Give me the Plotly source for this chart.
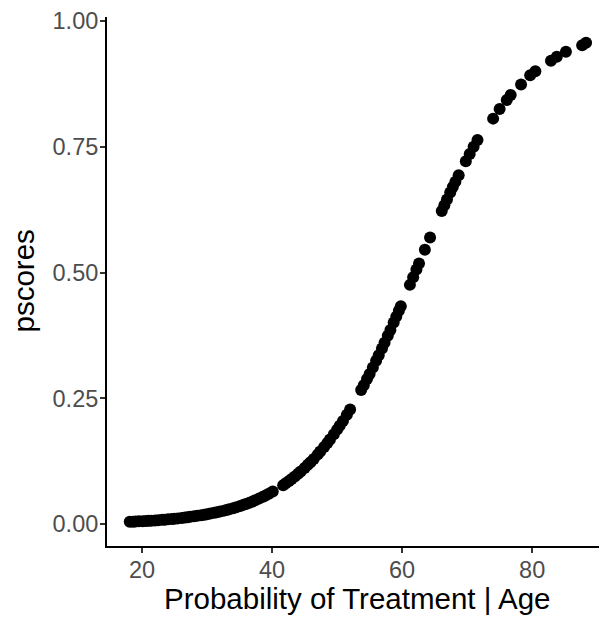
import plotly.graph_objects as go

# Ages (x) and propensity scores (y)
age = [
    18.1, 18.6, 19.0, 19.5, 20.1, 20.6, 21.0, 21.4, 22.0, 22.5, 23.1, 23.5,
    24.0, 24.6, 25.0, 25.5, 26.1, 26.6, 27.0, 27.4, 28.0, 28.5, 29.1, 29.6,
    30.0, 30.5, 31.1, 31.5, 32.0, 32.6, 33.0, 33.4, 34.0, 34.5, 35.1, 35.6,
    36.0, 36.5, 37.0, 37.4, 38.0, 38.6, 39.0, 39.5, 40.1,
    41.7, 42.1, 42.6, 43.0, 43.5, 44.0, 44.4, 45.0, 45.5, 45.9, 46.4, 47.0,
    47.4, 48.0, 48.5, 48.9, 49.5, 50.0, 50.4, 50.9, 51.5, 52.0,
    53.7, 54.1, 54.6, 55.0, 55.5, 56.0, 56.4, 56.9, 57.3, 57.8, 58.2, 58.7,
    59.1, 59.5, 59.8,
    61.2, 61.7, 62.2, 62.6, 63.5, 64.3,
    66.1, 66.5, 66.9, 67.4, 67.8, 68.2, 68.7,
    69.8, 70.4, 71.0, 71.6,
    74.0, 75.0, 76.1, 76.7, 78.3, 79.7, 80.5, 82.9, 83.8, 85.2, 87.7, 88.3,
]

pscores = [
    0.0047, 0.0050, 0.0052, 0.0056, 0.0060, 0.0064, 0.0067, 0.0070, 0.0075, 0.0080, 0.0086, 0.0090,
    0.0096, 0.0103, 0.0108, 0.0115, 0.0124, 0.0131, 0.0138, 0.0145, 0.0156, 0.0165, 0.0177, 0.0188,
    0.0198, 0.0210, 0.0225, 0.0236, 0.0251, 0.0269, 0.0283, 0.0296, 0.0318, 0.0337, 0.0362, 0.0384,
    0.0402, 0.0427, 0.0452, 0.0474, 0.0508, 0.0544, 0.0570, 0.0604, 0.0647,
    0.0775, 0.0811, 0.0857, 0.0896, 0.0948, 0.1001, 0.1046, 0.1117, 0.1179, 0.1230, 0.1297, 0.1382,
    0.1442, 0.1534, 0.1615, 0.1682, 0.1787, 0.1879, 0.1954, 0.2052, 0.2174, 0.2279,
    0.2665, 0.2761, 0.2885, 0.2986, 0.3115, 0.3248, 0.3356, 0.3493, 0.3605, 0.3746, 0.3861, 0.4007,
    0.4125, 0.4243, 0.4333,
    0.4756, 0.4909, 0.5061, 0.5183, 0.5456, 0.5697,
    0.6225, 0.6339, 0.6452, 0.6590, 0.6699, 0.6806, 0.6937,
    0.7215, 0.7359, 0.7499, 0.7634,
    0.806, 0.825, 0.843, 0.853, 0.874, 0.892, 0.900, 0.921, 0.929, 0.939, 0.952, 0.957,
]

x_ticks = [20, 40, 60, 80]
y_ticks = [0.0, 0.25, 0.50, 0.75, 1.00]
y_tick_text = ["0.00", "0.25", "0.50", "0.75", "1.00"]

x_title = "Probability of Treatment | Age"
y_title = "pscores"

FONT = "Liberation Sans, Arial, Helvetica, sans-serif"

fig = go.Figure()
fig.add_trace(go.Scatter(
    x=age, y=pscores, mode="markers",
    marker=dict(color="black", size=12, line=dict(width=0)),
    showlegend=False, hoverinfo="x+y",
))

fig.update_layout(
    width=599, height=612,
    margin=dict(l=99, r=0, t=5, b=74),
    paper_bgcolor="white", plot_bgcolor="white",
    font=dict(family=FONT),
    xaxis=dict(
        range=[14.6, 91.52], tickmode="array", tickvals=x_ticks,
        ticktext=[str(v) for v in x_ticks],
        showgrid=False, zeroline=False,
        showline=True, linecolor="black", linewidth=2,
        ticks="outside", ticklen=5, tickwidth=2, tickcolor="#333333",
        ticklabelstandoff=-3, ticklabeloverflow="allow",
        tickfont=dict(size=23.5, color="#4D4D4D", family=FONT),
    ),
    yaxis=dict(
        range=[-0.0434, 1.008], tickmode="array", tickvals=y_ticks,
        ticktext=y_tick_text,
        showgrid=False, zeroline=False,
        showline=True, linecolor="black", linewidth=2,
        ticks="outside", ticklen=5, tickwidth=2, tickcolor="#333333",
        ticklabelstandoff=-3, ticklabeloverflow="allow",
        tickfont=dict(size=23.5, color="#4D4D4D", family=FONT),
    ),
    annotations=[
        dict(text=x_title, xref="paper", yref="paper", x=0.5, y=0,
             yshift=-52, xanchor="center", yanchor="middle", showarrow=False,
             font=dict(size=29.5, color="black", family=FONT)),
        dict(text=y_title, xref="paper", yref="paper", x=0, y=0.5,
             xshift=-84, textangle=-90, xanchor="center", yanchor="middle",
             showarrow=False, font=dict(size=29.5, color="black", family=FONT)),
    ],
)

fig.write_html("out.html")
